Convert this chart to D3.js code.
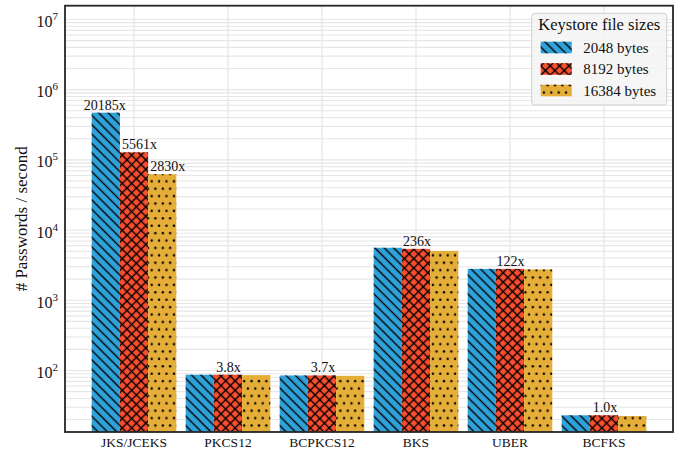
<!DOCTYPE html>
<html>
<head>
<meta charset="utf-8">
<script src="https://cdn.jsdelivr.net/npm/d3@7"></script>
<style>
  html, body { margin: 0; padding: 0; background: #fff; }
  svg { display: block; }
  text { font-family: "Liberation Serif", "Times New Roman", serif; fill: #111; }
</style>
</head>
<body>
<svg id="chart" width="684" height="453"></svg>
<script>
// ---- data ----
const categories = ["JKS/JCEKS", "PKCS12", "BCPKCS12", "BKS", "UBER", "BCFKS"];
const sizeLabels = ["2048 bytes", "8192 bytes", "16384 bytes"];
const values2048  = [470000, 87, 85, 5600, 2800, 23];
const values8192  = [128000, 87, 85, 5400, 2800, 23];
const values16384 = [62500, 86, 84, 5050, 2750, 22.5];
const yTickExponents = [2, 3, 4, 5, 6, 7];
const annotations = [
  { cat: "JKS/JCEKS", size: 0, text: "20185x" },
  { cat: "JKS/JCEKS", size: 1, text: "5561x" },
  { cat: "JKS/JCEKS", size: 2, text: "2830x" },
  { cat: "PKCS12",    size: 1, text: "3.8x" },
  { cat: "BCPKCS12",  size: 1, text: "3.7x" },
  { cat: "BKS",       size: 1, text: "236x" },
  { cat: "UBER",      size: 1, text: "122x" },
  { cat: "BCFKS",     size: 1, text: "1.0x" }
];
// horizontal nudges of the annotation texts (px), same order as annotations
const annotationDx = [-1, 5.5, 5.5, 0.5, 1, 1, 0.5, 1];
const legendTitle = "Keystore file sizes";
const yLabel = "# Passwords / second";

const series = [values2048, values8192, values16384];
const colors = ["#30a2da", "#fc4f30", "#e5ae38"];
const patternIds = ["hatchDiag", "hatchCross", "hatchDots"];

// ---- layout ----
const W = 684, H = 453;
const plot = { left: 65, right: 673, top: 5.7, bottom: 432 };
const svg = d3.select("#chart");

const y = d3.scaleLog().domain([13.3, 1.57e7]).range([plot.bottom, plot.top]);
const x0 = d3.scaleBand().domain(categories)
  .range([plot.left + 22, plot.right - 22]).paddingInner(0.1).paddingOuter(0.05);
const x1 = d3.scaleBand().domain([0, 1, 2]).range([0, x0.bandwidth()]).padding(0);

// ---- patterns ----
const defs = svg.append("defs");
const lp = 6.65; // perpendicular spacing of hatch lines
const diag = defs.append("pattern").attr("id", "hatchDiag")
  .attr("patternUnits", "userSpaceOnUse").attr("width", lp).attr("height", lp)
  .attr("patternTransform", "rotate(-45)");
diag.append("line").attr("x1", lp / 2).attr("x2", lp / 2).attr("y1", -1).attr("y2", lp + 1)
  .attr("stroke", "#000").attr("stroke-width", 1.4);

const cross = defs.append("pattern").attr("id", "hatchCross")
  .attr("patternUnits", "userSpaceOnUse").attr("width", lp).attr("height", lp)
  .attr("patternTransform", "rotate(45)");
cross.append("line").attr("x1", lp / 2).attr("x2", lp / 2).attr("y1", -1).attr("y2", lp + 1)
  .attr("stroke", "#000").attr("stroke-width", 1.4);
cross.append("line").attr("y1", lp / 2).attr("y2", lp / 2).attr("x1", -1).attr("x2", lp + 1)
  .attr("stroke", "#000").attr("stroke-width", 1.4);

const dp = 7.4;
const dots = defs.append("pattern").attr("id", "hatchDots")
  .attr("patternUnits", "userSpaceOnUse").attr("width", dp).attr("height", dp * 2);
[[dp / 2, dp / 2], [0, dp * 1.5], [dp, dp * 1.5]].forEach(([cx, cy]) =>
  dots.append("circle").attr("cx", cx).attr("cy", cy).attr("r", 1.2).attr("fill", "#000"));

// ---- grid ----
const grid = svg.append("g");
const minorTicks = [];
for (let e = 1; e <= 7; e++) {
  for (let m = 1; m <= 9; m++) {
    const v = m * Math.pow(10, e);
    if (v >= y.domain()[0] && v <= y.domain()[1]) minorTicks.push(v);
  }
}
grid.selectAll("line.h").data(minorTicks).join("line")
  .attr("x1", plot.left).attr("x2", plot.right)
  .attr("y1", d => y(d)).attr("y2", d => y(d))
  .attr("stroke", "#e6e6e6").attr("stroke-width", 1.1);
grid.selectAll("line.v").data(categories).join("line")
  .attr("x1", d => x0(d) + x0.bandwidth() / 2).attr("x2", d => x0(d) + x0.bandwidth() / 2)
  .attr("y1", plot.top).attr("y2", plot.bottom)
  .attr("stroke", "#e6e6e6").attr("stroke-width", 1.3);

// ---- bars ----
const barsG = svg.append("g");
series.forEach((vals, si) => {
  const g = barsG.append("g");
  const data = categories.map((c, i) => ({ c, v: vals[i] }));
  const bx = d => x0(d.c) + x1(si);
  g.selectAll("rect.fill").data(data).join("rect")
    .attr("x", bx).attr("width", x1.bandwidth())
    .attr("y", d => y(d.v)).attr("height", d => plot.bottom - y(d.v))
    .attr("fill", colors[si]);
  g.selectAll("rect.hatch").data(data).join("rect")
    .attr("x", bx).attr("width", x1.bandwidth())
    .attr("y", d => y(d.v)).attr("height", d => plot.bottom - y(d.v))
    .attr("fill", `url(#${patternIds[si]})`);
});

// ---- annotations ----
svg.append("g").selectAll("text").data(annotations).join("text")
  .attr("x", (d, i) => x0(d.cat) + x1(d.size) + x1.bandwidth() / 2 + annotationDx[i])
  .attr("y", d => y(series[d.size][categories.indexOf(d.cat)]) - 3)
  .attr("text-anchor", "middle").attr("font-size", 14)
  .text(d => d.text);

// ---- frame ----
svg.append("rect").attr("x", plot.left).attr("y", plot.top)
  .attr("width", plot.right - plot.left).attr("height", plot.bottom - plot.top)
  .attr("fill", "none").attr("stroke", "#262626").attr("stroke-width", 1.8);

// ---- y axis ticks ----
const yt = svg.append("g").selectAll("text").data(yTickExponents).join("text")
  .attr("x", 58).attr("y", d => y(Math.pow(10, d)) + 7.5)
  .attr("text-anchor", "end").attr("font-size", 16);
yt.append("tspan").text("10");
yt.append("tspan").attr("dy", -7).attr("font-size", 11).text(d => d);

// ---- x axis ticks ----
svg.append("g").selectAll("text").data(categories).join("text")
  .attr("x", d => x0(d) + x0.bandwidth() / 2).attr("y", 446.5)
  .attr("text-anchor", "middle").attr("font-size", 13.5)
  .text(d => d);

// ---- y label ----
svg.append("text")
  .attr("transform", `translate(27, ${(plot.top + plot.bottom) / 2}) rotate(-90)`)
  .attr("text-anchor", "middle").attr("font-size", 17)
  .text(yLabel);

// ---- legend ----
const lg = svg.append("g");
lg.append("rect").attr("x", 531.7).attr("y", 13.3).attr("width", 135).attr("height", 91.7)
  .attr("rx", 3).attr("fill", "#f4f4f4").attr("fill-opacity", 0.85)
  .attr("stroke", "#d0d0d0").attr("stroke-width", 1);
lg.append("text").attr("x", 599.2).attr("y", 30).attr("text-anchor", "middle")
  .attr("font-size", 16.5).text(legendTitle);
sizeLabels.forEach((lab, i) => {
  const cy = 47.5 + i * 21.5;
  lg.append("rect").attr("x", 540.7).attr("y", cy - 5.8).attr("width", 31).attr("height", 11.6)
    .attr("fill", colors[i]);
  lg.append("rect").attr("x", 540.7).attr("y", cy - 5.8).attr("width", 31).attr("height", 11.6)
    .attr("fill", `url(#${patternIds[i]})`);
  lg.append("text").attr("x", 583.3).attr("y", cy + 5).attr("font-size", 15).text(lab);
});
</script>
</body>
</html>
